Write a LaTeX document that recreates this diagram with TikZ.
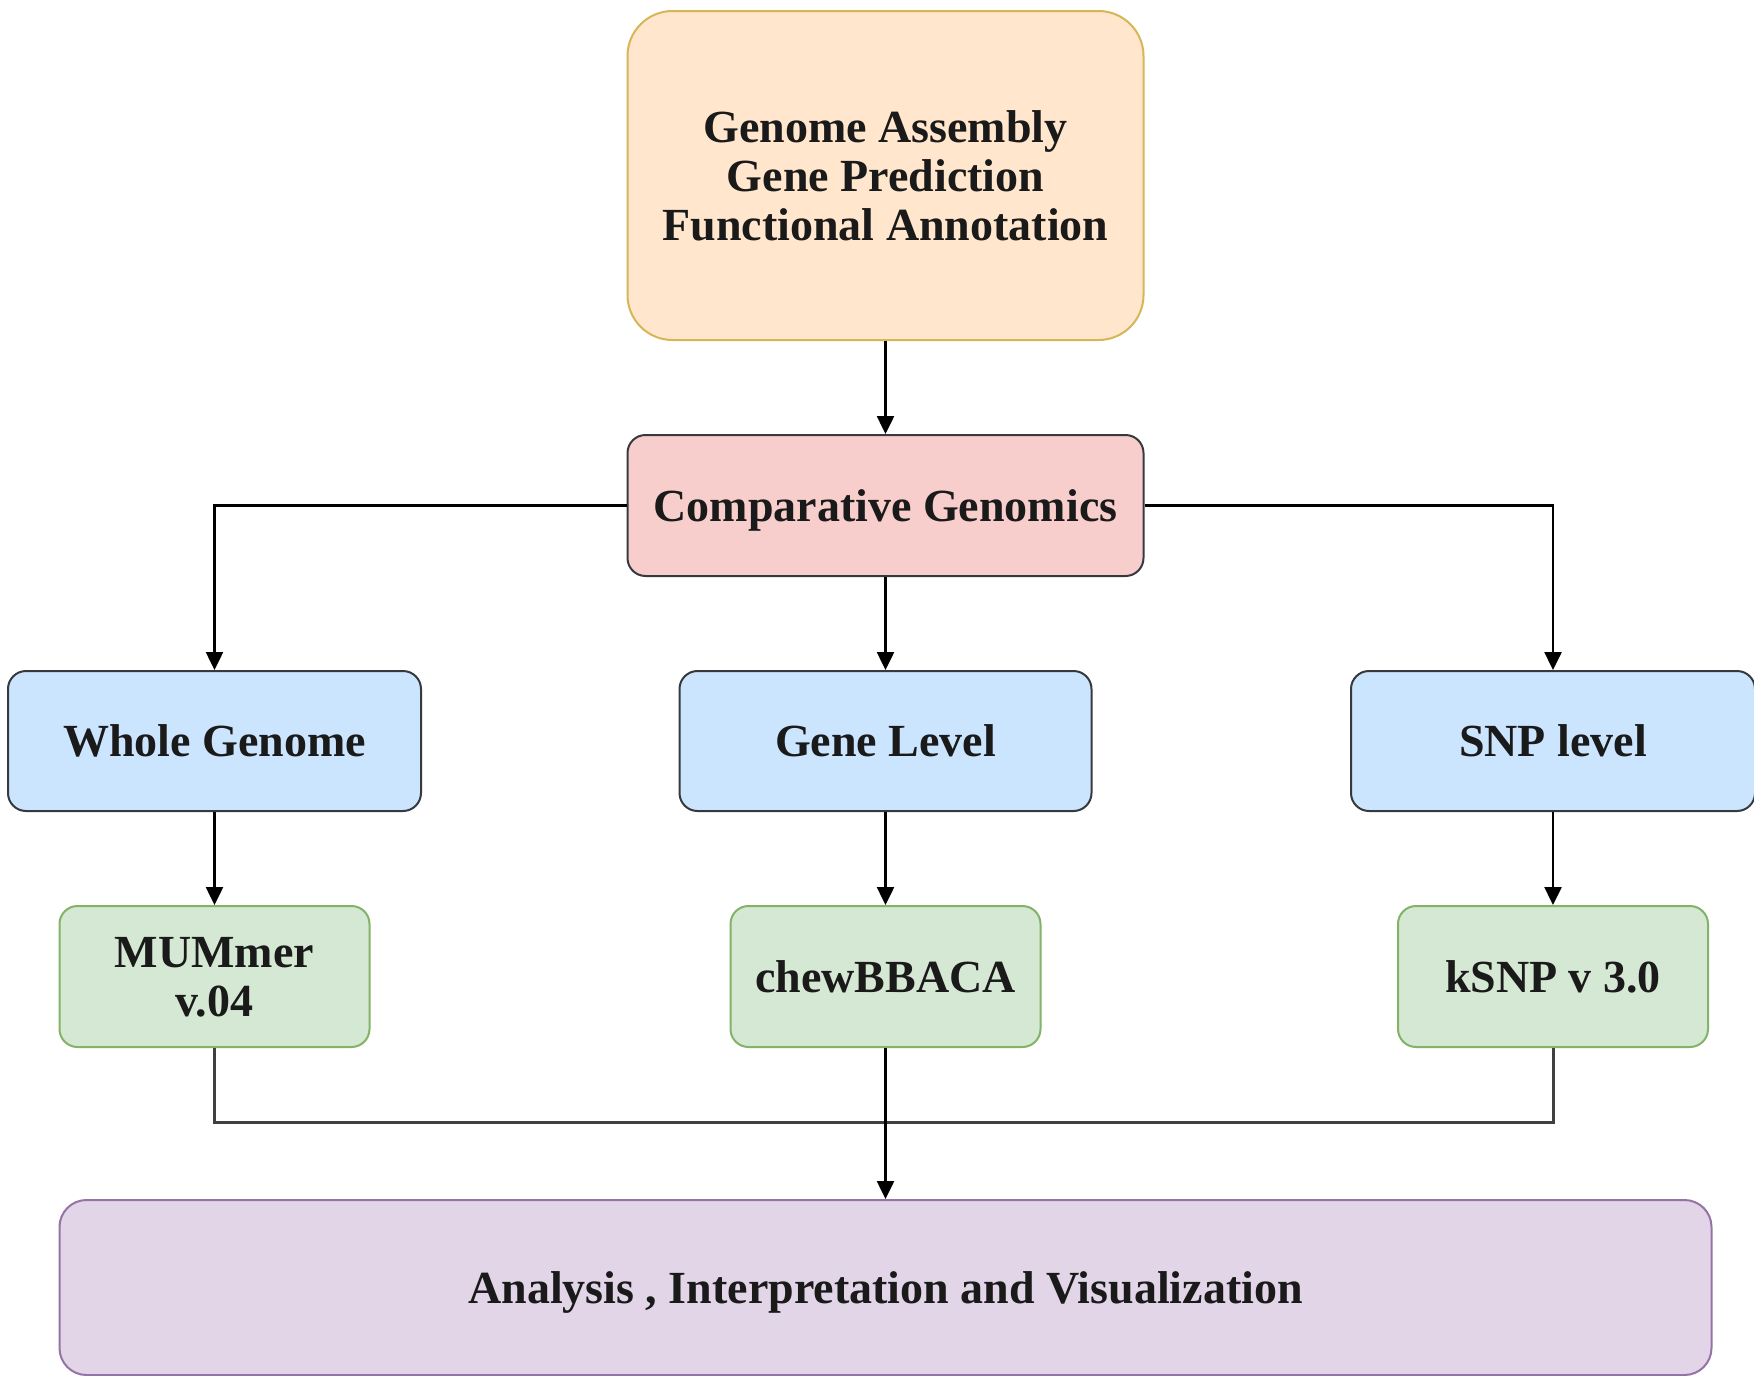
\documentclass[tikz,border=0pt]{standalone}
\usepackage{fontspec}
\setmainfont{Liberation Serif}
\usetikzlibrary{arrows.meta}
\definecolor{orfill}{HTML}{FFE6CC}
\definecolor{ordraw}{HTML}{D6B656}
\definecolor{rdfill}{HTML}{F8CECC}
\definecolor{bgfill}{HTML}{CCE5FF}
\definecolor{dkdraw}{HTML}{36393D}
\definecolor{grfill}{HTML}{D5E8D4}
\definecolor{grdraw}{HTML}{82B366}
\definecolor{pufill}{HTML}{E1D5E7}
\definecolor{pudraw}{HTML}{9673A6}
\definecolor{txt}{HTML}{1A1A1A}
\tikzset{
  box/.style={rectangle, align=center, inner sep=0pt, line width=2pt, text=txt,
    text depth=0pt, font=\fontsize{46}{49}\selectfont\bfseries},
  orbox/.style={box, fill=orfill, draw=ordraw, rounded corners=45pt},
  rdbox/.style={box, fill=rdfill, draw=dkdraw, rounded corners=18pt},
  blbox/.style={box, fill=bgfill, draw=dkdraw, rounded corners=18pt},
  grbox/.style={box, fill=grfill, draw=grdraw, rounded corners=18pt},
  pubox/.style={box, fill=pufill, draw=pudraw, rounded corners=27pt},
  arr/.style={draw=black, line width=2.5pt, -{Triangle[length=18pt,width=17pt]}},
  link/.style={draw=black, line width=2.5pt},
  mergeline/.style={draw=black!75, line width=3pt}
}
\begin{document}
\begin{tikzpicture}[x=1pt,y=1pt]
\useasboundingbox (0,0) rectangle (1754,-1376);
\fill[white] (0,0) rectangle (1754,-1376);
\node[orbox, minimum width=516pt, minimum height=329pt] (top) at (885.5,-175.5)
  {Genome Assembly\\Gene Prediction\\Functional Annotation};
\node[rdbox, minimum width=516pt, minimum height=141pt] (comp) at (885.5,-505.5)
  {Comparative Genomics};
\node[blbox, minimum width=413pt, minimum height=140pt] (wg) at (214.5,-741)
  {Whole Genome};
\node[blbox, minimum width=412pt, minimum height=140pt] (gl) at (885.5,-741)
  {Gene Level};
\node[blbox, minimum width=404pt, minimum height=140pt] (snp) at (1553,-741)
  {SNP level};
\node[grbox, minimum width=310pt, minimum height=141pt] (mum) at (214.5,-976.5)
  {MUMmer\\v.04};
\node[grbox, minimum width=310pt, minimum height=141pt] (chew) at (885.5,-976.5)
  {chewBBACA};
\node[grbox, minimum width=310pt, minimum height=141pt] (ksnp) at (1553,-976.5)
  {kSNP v 3.0};
\node[pubox, minimum width=1652pt, minimum height=175pt] (ana) at (885.5,-1287.5)
  {Analysis , Interpretation and Visualization};
\coordinate (j) at (885.5,-1122);
\draw[arr] (top) -- (comp);
\draw[arr] (comp.west) -| (wg.north);
\draw[arr] (comp.east) -| (snp.north);
\draw[arr] (comp) -- (gl);
\draw[arr] (wg) -- (mum);
\draw[arr] (gl) -- (chew);
\draw[arr] (snp) -- (ksnp);
\draw[mergeline] (mum.south) |- (j) -| (ksnp.south);
\draw[arr] (chew) -- (ana);
\end{tikzpicture}
\end{document}
